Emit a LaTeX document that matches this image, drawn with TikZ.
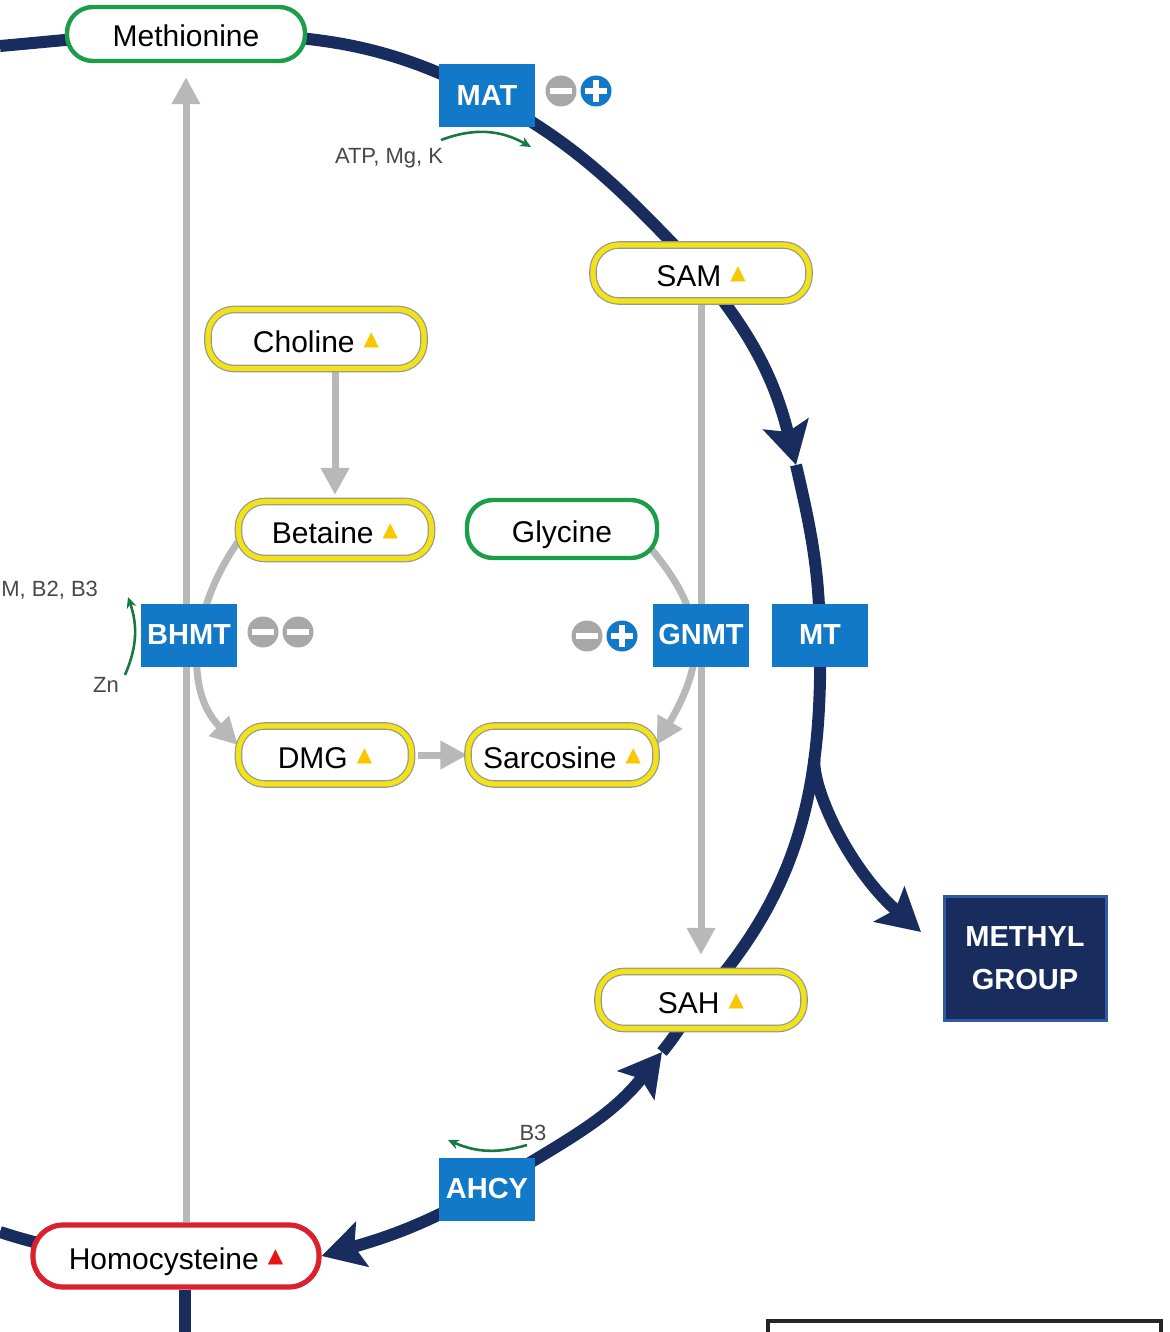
\documentclass[tikz,border=0pt]{standalone}
\usepackage{fontspec}
\setmainfont{Liberation Sans}
\newfontfamily\trifont{DejaVu Sans}
\usepackage{tikz}
\usetikzlibrary{arrows.meta,backgrounds,calc}

\definecolor{navy}{RGB}{24,44,94}
\definecolor{enzblue}{RGB}{18,120,200}
\definecolor{linegray}{RGB}{184,184,184}
\definecolor{icongray}{RGB}{168,168,168}
\definecolor{pillgray}{RGB}{150,150,150}
\definecolor{pillyellow}{RGB}{242,226,24}
\definecolor{pillgreen}{RGB}{26,158,72}
\definecolor{pillred}{RGB}{218,34,44}
\definecolor{cofgreen}{RGB}{24,120,64}
\definecolor{trired}{RGB}{232,20,20}
\definecolor{triyellow}{RGB}{250,198,0}
\definecolor{methylborder}{RGB}{50,90,160}

\newcommand{\uptri}[1]{\hspace{4.5pt}\raisebox{3.5pt}{\trifont\fontsize{10}{10}\selectfont\color{#1}▲}}

\begin{document}
\begin{tikzpicture}[x=0.5pt, y=0.5pt,
  pill node/.style={rectangle, rounded corners=13pt, fill=white, inner sep=0pt, text height=13pt, text depth=0pt, font=\fontsize{15}{18}\selectfont},
  yellow node/.style={pill node, draw=pillgray, line width=0.6pt, double=pillyellow, double distance=2.6pt},
  green node/.style={pill node, draw=pillgreen, line width=2.2pt},
  red node/.style={pill node, draw=pillred, line width=2.6pt, rounded corners=15pt},
  enz node/.style={rectangle, fill=enzblue, text=white, inner sep=0pt, minimum width=48pt, minimum height=31.5pt, font=\bfseries\fontsize{14.5}{17}\selectfont},
  methyl node/.style={rectangle, fill=navy, draw=methylborder, line width=1.5pt, text=white, align=center, minimum width=81pt, minimum height=62pt, font=\bfseries\fontsize{14.5}{21.5}\selectfont},
  cof text/.style={text=black!72, inner sep=0pt, font=\fontsize{11}{13}\selectfont},
  minus icon/.style={circle, fill=icongray, minimum size=15.5pt, inner sep=0pt,
    path picture={\fill[white] ([shift={(-5.5pt,-1.4pt)}]path picture bounding box.center) rectangle ([shift={(5.5pt,1.4pt)}]path picture bounding box.center);}},
  plus icon/.style={circle, fill=enzblue, minimum size=15.5pt, inner sep=0pt,
    path picture={\fill[white] ([shift={(-5.5pt,-1.4pt)}]path picture bounding box.center) rectangle ([shift={(5.5pt,1.4pt)}]path picture bounding box.center);
                  \fill[white] ([shift={(-1.4pt,-5.5pt)}]path picture bounding box.center) rectangle ([shift={(1.4pt,5.5pt)}]path picture bounding box.center);}},
  cycle line/.style={draw=navy, line width=6pt},
  cycle arrow/.style={cycle line, -{Stealth[length=21pt,width=23pt,inset=4pt]}},
  gray line/.style={draw=linegray, line width=3.5pt},
  gray arrow/.style={gray line, -{Triangle[length=13.5pt,width=13.5pt]}},
  cof arrow/.style={draw=cofgreen, line width=1.3pt, -{Stealth[length=5.5pt,width=5pt]}}]
\useasboundingbox (0,0) rectangle (1170,-1332);

\node[green node, minimum width=119pt, minimum height=27pt] (met) at (186,-34) {Methionine};
\node[enz node] (mat) at (487,-96) {MAT};
\node[yellow node, minimum width=108pt, minimum height=28pt] (sam) at (701,-273) {SAM\uptri{triyellow}};
\node[yellow node, minimum width=108pt, minimum height=29.5pt] (cho) at (316,-339) {Choline\uptri{triyellow}};
\node[yellow node, minimum width=96.5pt, minimum height=28.5pt] (bet) at (335,-530) {Betaine\uptri{triyellow}};
\node[green node, minimum width=95pt, minimum height=29pt] (gly) at (562,-529) {Glycine};
\node[enz node] (bhmt) at (189,-635) {BHMT};
\node[enz node] (gnmt) at (701,-635) {GNMT};
\node[enz node] (mt) at (820,-635) {MT};
\node[yellow node, minimum width=86.5pt, minimum height=29pt] (dmg) at (325,-755) {DMG\uptri{triyellow}};
\node[yellow node, minimum width=94pt, minimum height=29pt] (sar) at (562,-755) {Sarcosine\uptri{triyellow}};
\node[yellow node, minimum width=103pt, minimum height=28.5pt] (sah) at (701,-1000) {SAH\uptri{triyellow}};
\node[enz node] (ahcy) at (487,-1189) {AHCY};
\node[red node, minimum width=143pt, minimum height=31pt] (hcy) at (176,-1256) {Homocysteine\uptri{trired}};
\node[methyl node] (methyl) at (1025,-958) {METHYL\\GROUP};

\node[minus icon] (matm) at (561,-91) {};
\node[plus icon] (matp) at (596,-91) {};
\node[minus icon] (bhmtm) at (263,-632) {};
\node[minus icon] (bhmtmm) at (298,-632) {};
\node[minus icon] (gnmtm) at (587,-636) {};
\node[plus icon] (gnmtp) at (622,-636) {};

\node[cof text] (atp) at (389,-158) {ATP, Mg, K};
\node[cof text] (bthree) at (533,-1133) {B3};
\node[cof text] (zn) at (106,-685) {Zn};
\node[cof text, anchor=west] (bcof) at (1,-590) {M, B2, B3};

\coordinate (lt) at (0,-46);
\coordinate (lb) at (0,-1232);
\coordinate (tipa) at (796,-465);
\coordinate (tipb) at (662,-1052);
\coordinate (tipm) at (921,-932);
\coordinate (hcyout) at (185,-1345);
\coordinate (matl) at (441,-140);
\coordinate (matr) at (531,-147);
\coordinate (ahr) at (527,-1145);
\coordinate (ahl) at (448,-1140);
\coordinate (znb) at (125,-675);
\coordinate (znt) at (128,-597);

\begin{scope}[on background layer]
\draw[gray arrow, shorten >=7pt] (hcy.north -| met) -- (met.south);
\draw[gray arrow, shorten >=3pt, shorten <=1.5pt] (cho.south -| bet) -- (bet.north);
\draw[gray arrow, shorten >=8pt] (sam.south) -- (sah.north);
\draw[gray arrow, shorten <=3pt] (dmg.east) -- (sar.west);
\draw[gray arrow] ([yshift=-6pt]bet.west) to[out=235,in=135] ([yshift=5pt]dmg.west);
\draw[gray arrow] ([shift={(-4pt,-10pt)}]gly.east) to[out=-50,in=60,looseness=1.2] ([yshift=5pt]sar.east);

\draw[cycle line] (lt) to[out=5,in=180] (met.center) to[out=0,in=152] (mat.center) to[out=-28,in=134] (sam.center);
\draw[cycle arrow] (sam.center) to[out=-50,in=104] (tipa);
\draw[cycle line] (tipa) to[out=-77,in=91] (mt.center) to[out=-89,in=48] coordinate[pos=0.3] (br) (sah.center) to[out=-132,in=50] (tipb);
\draw[cycle arrow] (ahcy.center) to[out=32,in=-128] (tipb);
\draw[cycle arrow] (ahcy.center) to[out=-150,in=16] (hcy.east);
\draw[cycle line] (hcy.center) to[out=180,in=-18] (lb);
\draw[cycle line] (hcy.south -| hcyout) -- (hcyout);
\draw[cycle arrow] (br) .. controls (812,-790) and (850,-870) .. (tipm);
\end{scope}

\draw[cof arrow] (matl) to[bend left=25] (matr);
\draw[cof arrow] (ahr) to[bend left=20] (ahl);
\draw[cof arrow] (znb) to[bend right=21] (znt);

\draw[line width=2pt, black!85] (768,-1321) rectangle (1161,-1350);
\end{tikzpicture}
\end{document}
